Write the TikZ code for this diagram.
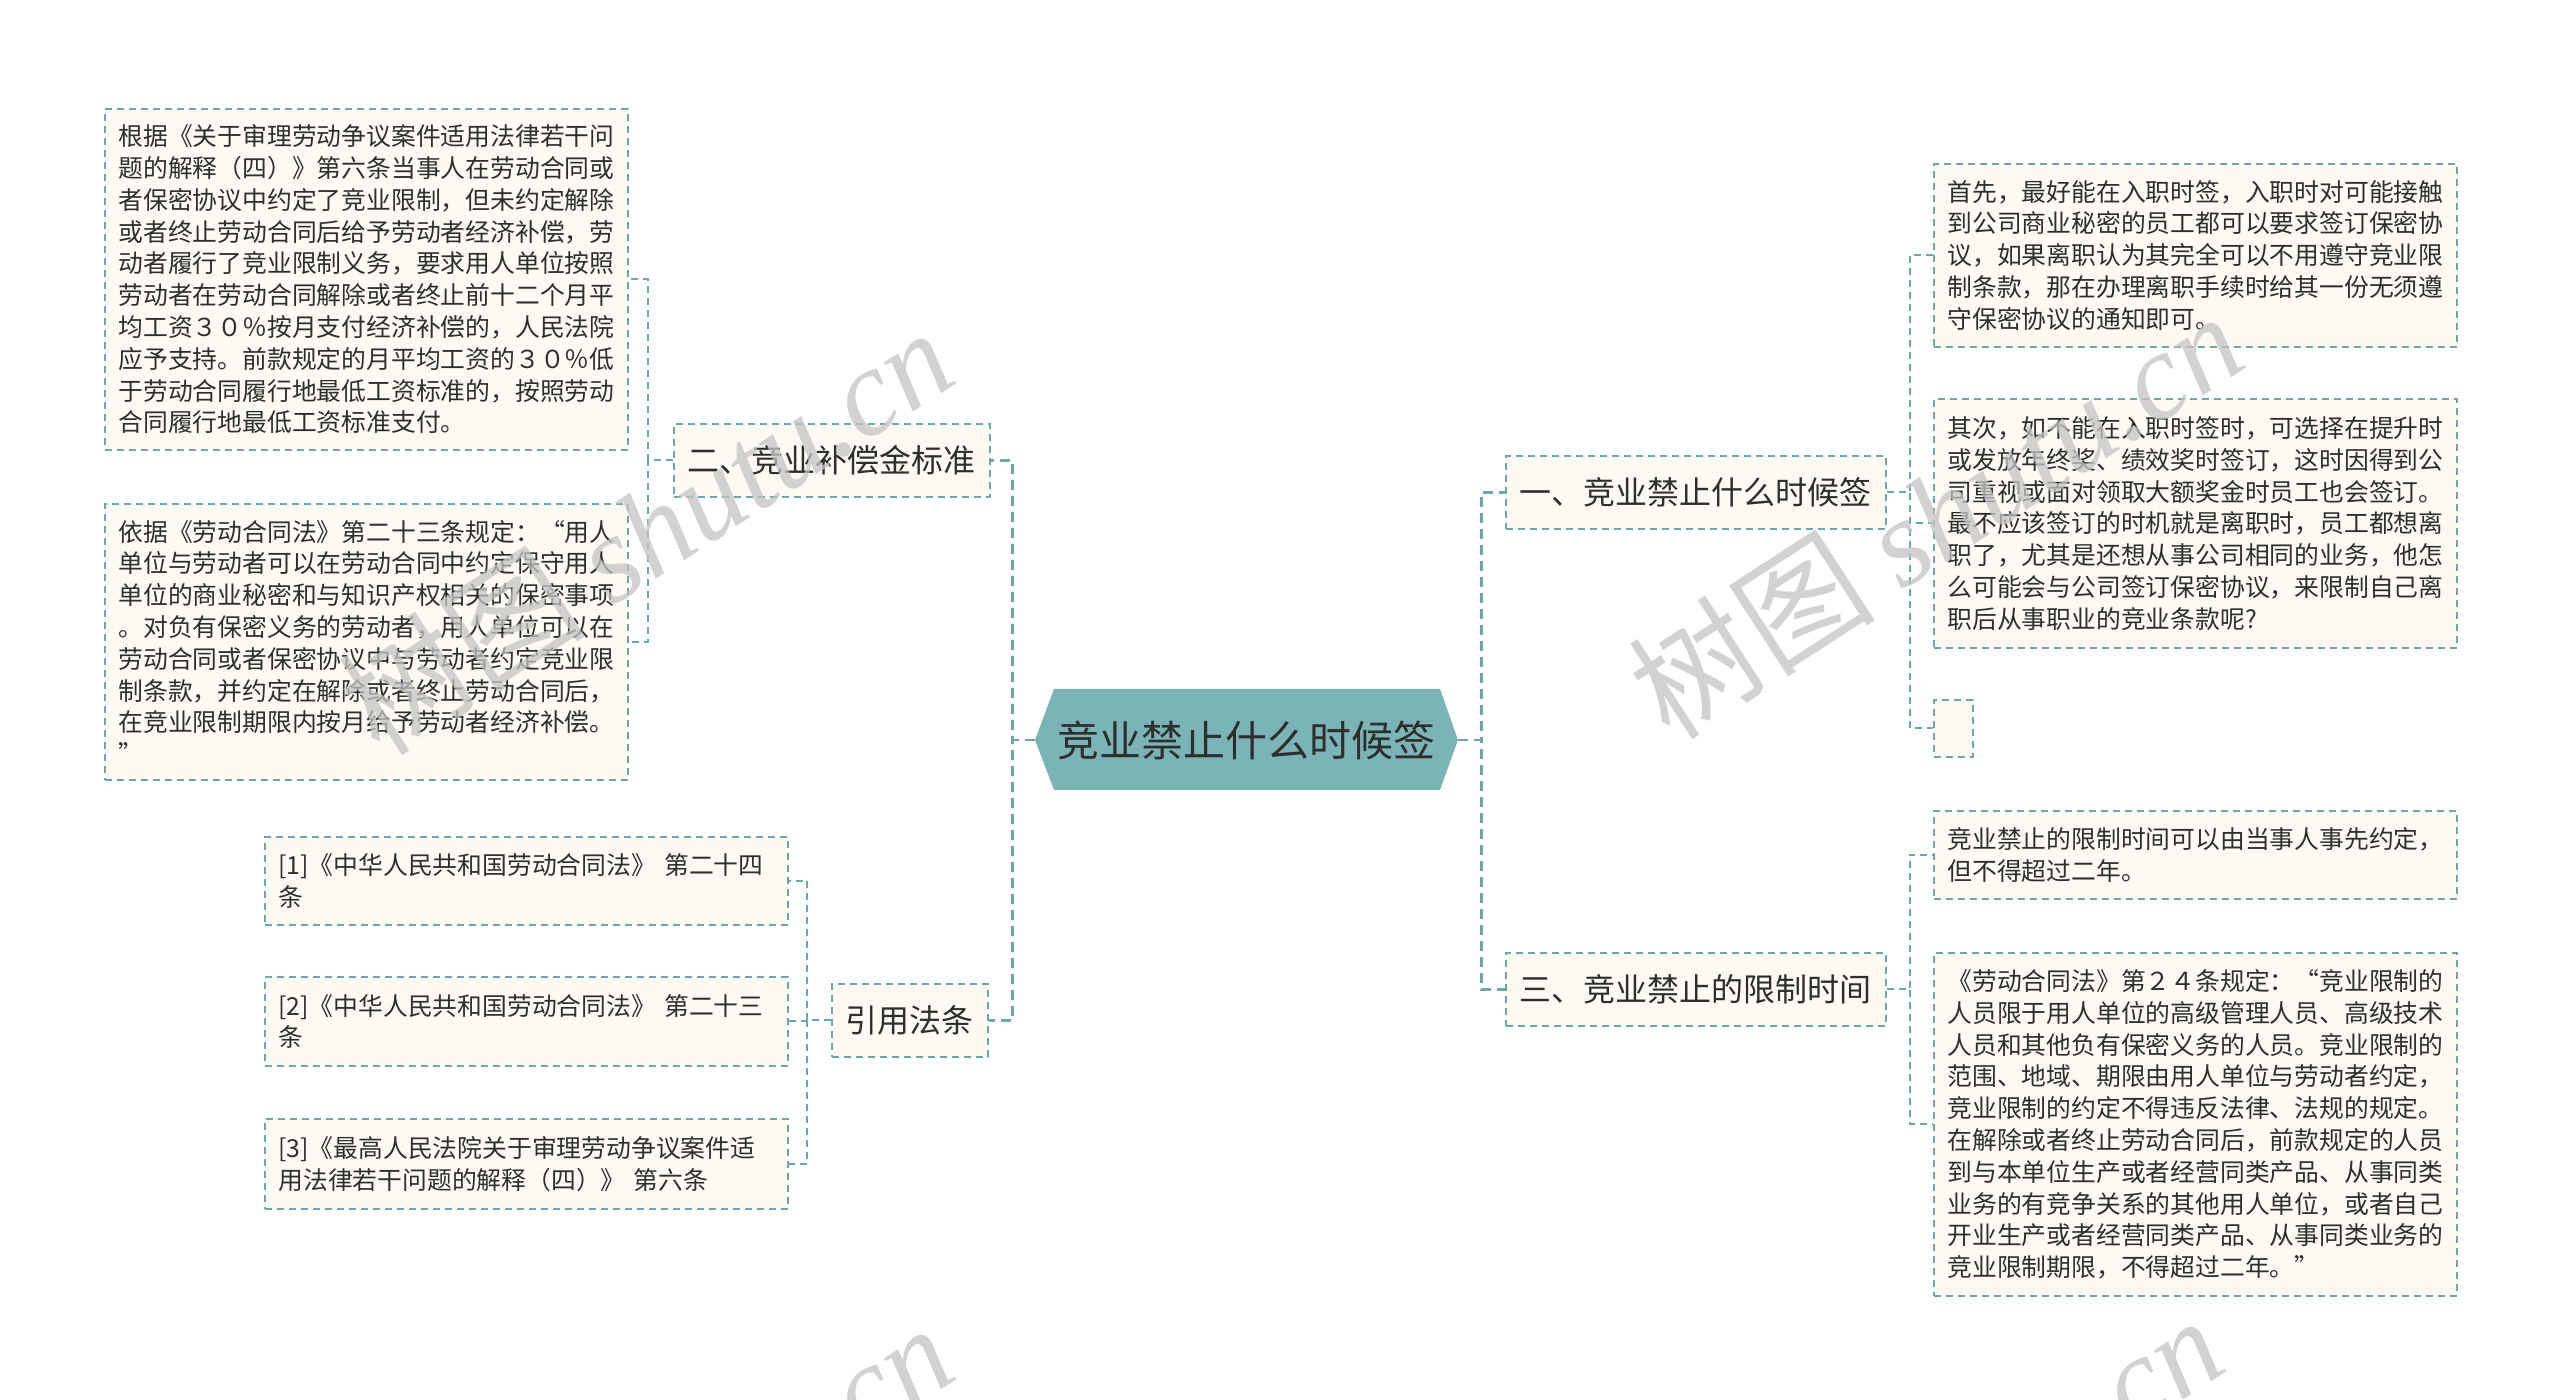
\documentclass[tikz,border=0pt]{standalone}
\usepackage{fontspec}
\setmainfont{Noto Sans CJK SC}
\newfontfamily\wmlatin{Liberation Serif}
\definecolor{linkc}{HTML}{6CA7A9}
\definecolor{leafbg}{HTML}{FCFAF2}
\definecolor{rootbg}{HTML}{7BB4B6}
\definecolor{txt}{HTML}{2E2E2E}
\definecolor{wm}{HTML}{C4C4C4}

\begin{document}
\begin{tikzpicture}[x=0.5pt,y=-0.5pt,
	link/.style={draw=linkc,line width=1pt,dash pattern=on 3.5pt off 2.5pt},
	mainlink/.style={draw=linkc,line width=1.4pt,dash pattern=on 5pt off 3pt},
	box/.style={draw=linkc,fill=leafbg,line width=0.9pt,dash pattern=on 3.5pt off 2.5pt,text=txt},
	topic/.style={box,anchor=north west,font=\fontsize{16pt}{19pt}\selectfont,minimum height=36.5pt,inner xsep=7pt},
	leaf/.style={box,anchor=north west,align=left,text width=248pt,inner xsep=6.75pt,font=\fontsize{12.4pt}{15.9pt}\selectfont},
	rootlabel/.style={text=txt,font=\fontsize{21pt}{25pt}\selectfont,minimum width=211.5pt,minimum height=50.5pt,inner sep=0pt},
	wmark/.style={text=wm,rotate=33,font=\fontsize{62pt}{62pt}\selectfont,opacity=0.75}]
	\useasboundingbox (0,0) rectangle (2560,1400);
	\fill[white] (0,0) rectangle (2560,1400);
	\fill[rootbg] (1035,740) -- (1054,689) -- (1440,689) -- (1458,740) -- (1440,790) -- (1054,790) -- cycle;
	\node[rootlabel] (root) at (1246.5,740) {竞业禁止什么时候签};
	\node[topic] (comp) at (673,423) {二、竞业补偿金标准};
	\node[topic] (cite) at (831,983) {引用法条};
	\node[topic] (when) at (1505,455) {一、竞业禁止什么时候签};
	\node[topic] (term) at (1505,952) {三、竞业禁止的限制时间};
	\node[leaf,minimum height=170.5pt] (comp1) at (104,108) {根据《关于审理劳动争议案件适用法律若干问\\题的解释（四）》第六条当事人在劳动合同或\\者保密协议中约定了竞业限制，但未约定解除\\或者终止劳动合同后给予劳动者经济补偿，劳\\动者履行了竞业限制义务，要求用人单位按照\\劳动者在劳动合同解除或者终止前十二个月平\\均工资３０％按月支付经济补偿的，人民法院\\应予支持。前款规定的月平均工资的３０％低\\于劳动合同履行地最低工资标准的，按照劳动\\合同履行地最低工资标准支付。};
	\node[leaf,minimum height=138pt] (comp2) at (104,503) {依据《劳动合同法》第二十三条规定：“用人\\单位与劳动者可以在劳动合同中约定保守用人\\单位的商业秘密和与知识产权相关的保密事项\\。对负有保密义务的劳动者，用人单位可以在\\劳动合同或者保密协议中与劳动者约定竞业限\\制条款，并约定在解除或者终止劳动合同后，\\在竞业限制期限内按月给予劳动者经济补偿。\\”};
	\node[leaf,minimum height=44pt] (cite1) at (264,836) {[1]《中华人民共和国劳动合同法》 第二十四\\条};
	\node[leaf,minimum height=44.5pt] (cite2) at (264,976) {[2]《中华人民共和国劳动合同法》 第二十三\\条};
	\node[leaf,minimum height=45pt] (cite3) at (264,1118) {[3]《最高人民法院关于审理劳动争议案件适\\用法律若干问题的解释（四）》 第六条};
	\node[leaf,minimum height=91.5pt] (when1) at (1933,163) {首先，最好能在入职时签，入职时对可能接触\\到公司商业秘密的员工都可以要求签订保密协\\议，如果离职认为其完全可以不用遵守竞业限\\制条款，那在办理离职手续时给其一份无须遵\\守保密协议的通知即可。};
	\node[leaf,minimum height=124.5pt] (when2) at (1933,398) {其次，如不能在入职时签时，可选择在提升时\\或发放年终奖、绩效奖时签订，这时因得到公\\司重视或面对领取大额奖金时员工也会签订。\\最不应该签订的时机就是离职时，员工都想离\\职了，尤其是还想从事公司相同的业务，他怎\\么可能会与公司签订保密协议，来限制自己离\\职后从事职业的竞业条款呢?};
	\node[box,anchor=north west,minimum width=19.5pt,minimum height=28.5pt,inner sep=0pt] (when3) at (1933,699) {};
	\node[leaf,minimum height=44pt] (term1) at (1933,810) {竞业禁止的限制时间可以由当事人事先约定，\\但不得超过二年。};
	\node[leaf,minimum height=171.5pt] (term2) at (1933,952) {《劳动合同法》第２４条规定：“竞业限制的\\人员限于用人单位的高级管理人员、高级技术\\人员和其他负有保密义务的人员。竞业限制的\\范围、地域、期限由用人单位与劳动者约定，\\竞业限制的约定不得违反法律、法规的规定。\\在解除或者终止劳动合同后，前款规定的人员\\到与本单位生产或者经营同类产品、从事同类\\业务的有竞争关系的其他用人单位，或者自己\\开业生产或者经营同类产品、从事同类业务的\\竞业限制期限，不得超过二年。”};
	\draw[mainlink] (root.west) -- ++(-22,0) |- (comp.east);
	\draw[mainlink] (root.west) -- ++(-22,0) |- (cite.east);
	\draw[mainlink] (root.east) -- ++(23,0) |- (when.west);
	\draw[mainlink] (root.east) -- ++(23,0) |- (term.west);
	\foreach \n in {comp1,comp2} \draw[link] (comp.west) -- ++(-25,0) |- (\n.east);
	\foreach \n in {cite1,cite2,cite3} \draw[link] (cite.west) -- ++(-24,0) |- (\n.east);
	\foreach \n in {when1,when2,when3} \draw[link] (when.east) -- ++(23,0) |- (\n.west);
	\foreach \n in {term1,term2} \draw[link] (term.east) -- ++(23,0) |- (\n.west);
	\begin{scope}
		\clip (0,0) rectangle (2560,1400);
		\node[wmark] (wmleft) at (645,530) {树图 {\wmlatin\itshape shutu.cn}};
		\node[wmark] (wmright) at (1935,514) {树图 {\wmlatin\itshape shutu.cn}};
		\node[wmark] (wmlowleft) at (645,1526) {树图 {\wmlatin\itshape shutu.cn}};
		\node[wmark] (wmlowright) at (1915,1518) {树图 {\wmlatin\itshape shutu.cn}};
	\end{scope}
\end{tikzpicture}
\end{document}
